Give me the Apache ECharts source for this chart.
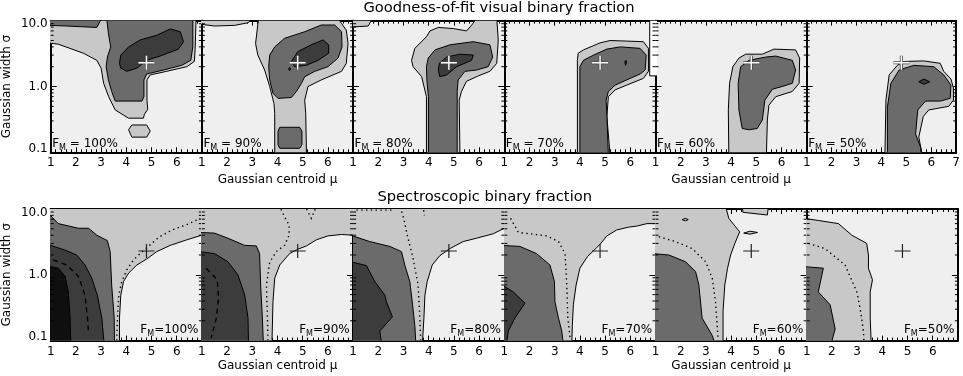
<!DOCTYPE html>
<html>
<head>
<meta charset="utf-8">
<script src="https://cdn.jsdelivr.net/npm/echarts@6/dist/echarts.min.js"></script>
<style>
html, body { margin: 0; padding: 0; background: #fff; }
#chart { width: 963px; height: 376px; }
</style>
</head>
<body>
<div id="chart"></div>
<script>
// row titles, panel fractions and axis ticks
var rowTitles = ['Goodness-of-fit visual binary fraction', 'Spectroscopic binary fraction'];
var fractions = ['100%', '90%', '80%', '70%', '60%', '50%'];
var xTicks = [1, 2, 3, 4, 5, 6, 7];
var yTicks = [0.1, 1, 10];
var yMinor = [0.2, 0.3, 0.4, 0.5, 0.6, 0.7, 0.8, 0.9, 2, 3, 4, 5, 6, 7, 8, 9];
var bestFit = [4.8, 2.3];

// contours: [mu, sigma] vertices, lev = contour level (1 light .. 4 darkest, 5 white)
var visual100 = [
	{lev: 1, pts: [[0.9,11],[0.9,4.6],[1.3,4.4],[2.3,3.2],[2.83,2.5],[3.0,1.9],[3.1,1.12],[3.3,0.7],[3.56,0.44],[4.09,0.33],[4.68,0.33],[4.72,0.38],[4.85,0.45],[4.82,0.62],[4.82,1.26],[4.95,1.5],[5.6,1.7],[6.4,2.0],[6.7,2.4],[6.73,3.6],[6.77,11]]},
	{lev: 2, pts: [[0.9,11],[0.9,8.5],[1.64,8.3],[2.2,8.1],[2.83,7.9],[3.03,11]]},
	{lev: 2, pts: [[3.22,11],[3.29,6.4],[3.38,4.0],[3.25,2.8],[3.2,2.0],[3.29,1.26],[3.42,0.84],[3.56,0.6],[4.62,0.6],[4.7,0.7],[4.7,1.26],[4.81,1.55],[5.48,1.78],[6.2,2.1],[6.56,2.5],[6.64,4.0],[6.64,11]]},
	{lev: 3, pts: [[3.73,2.25],[3.78,3.0],[4.09,4.0],[4.55,5.1],[5.21,6.0],[5.74,7.5],[6.14,6.8],[6.27,4.8],[6.07,3.7],[5.34,2.9],[4.81,2.5],[4.42,1.9],[4.02,1.7],[3.78,1.9]]},
	{lev: 1, pts: [[4.09,0.22],[4.22,0.26],[4.81,0.26],[4.95,0.21],[4.81,0.17],[4.22,0.17]]}
];
var visual90 = [
	{lev: 1, pts: [[0.9,11],[0.9,8.9],[1.5,8.3],[2.3,8.5],[2.83,9.3],[3.03,11]]},
	{lev: 1, pts: [[3.25,11],[3.13,4.5],[3.22,3.0],[3.49,1.78],[3.69,1.0],[3.86,0.55],[3.89,0.39],[3.89,0.09],[5.15,0.09],[5.12,0.39],[5.08,0.62],[5.21,1.0],[5.74,1.26],[6.54,1.7],[6.73,2.25],[6.8,4.5],[6.73,7.2],[6.54,9.1],[6.4,11]]},
	{lev: 2, pts: [[3.65,2.0],[3.69,3.0],[3.89,4.0],[4.28,5.4],[5.08,6.8],[5.74,8.6],[6.27,8.6],[6.54,6.8],[6.56,4.0],[6.4,2.7],[6.0,2.0],[5.48,1.7],[5.08,1.41],[4.95,1.12],[4.75,0.84],[4.55,0.68],[4.02,0.66],[3.82,0.79],[3.69,1.26]]},
	{lev: 3, pts: [[4.55,2.4],[4.81,3.4],[5.34,4.3],[5.81,5.1],[6.03,4.3],[6.03,3.2],[5.61,2.5],[5.15,2.1],[4.68,2.0]]},
	{lev: 3, pts: [[4.44,1.85],[4.48,1.95],[4.52,1.85],[4.48,1.75]]},
	{lev: 2, pts: [[4.02,0.21],[4.09,0.24],[4.88,0.24],[4.97,0.21],[4.97,0.13],[4.88,0.115],[4.09,0.115],[4.02,0.13]]}
];
var visual80 = [
	{lev: 1, pts: [[0.9,11],[0.9,8.0],[1.6,8.3],[1.77,11]]},
	{lev: 1, pts: [[3.91,0.09],[3.91,0.7],[3.72,1.41],[3.38,2.0],[3.32,2.5],[3.45,3.8],[3.91,5.7],[4.05,7.0],[4.38,7.9],[4.97,7.6],[5.5,7.0],[5.74,8.9],[5.9,11],[6.7,11],[6.76,5.1],[6.7,2.25],[6.43,1.7],[5.97,1.45],[5.5,1.2],[5.3,0.84],[5.21,0.62],[5.24,0.09]]},
	{lev: 2, pts: [[3.99,0.09],[3.99,0.7],[3.93,1.2],[3.91,2.0],[3.98,2.7],[4.25,3.6],[4.84,4.3],[5.77,4.8],[6.43,4.3],[6.54,2.8],[6.36,2.0],[5.9,1.78],[5.44,1.7],[5.17,1.26],[5.13,0.84],[5.13,0.09]]},
	{lev: 3, pts: [[4.38,1.78],[4.42,2.25],[4.71,2.8],[5.24,3.1],[5.77,3.0],[5.7,2.5],[5.11,2.0],[4.71,1.5],[4.44,1.41]]}
];
var visual70 = [
	{lev: 1, pts: [[3.9,0.09],[3.9,2.5],[3.93,3.2],[4.14,3.6],[4.8,4.6],[5.2,5.0],[6.52,4.8],[6.72,3.8],[6.72,1.7],[6.52,1.33],[5.86,1.05],[5.4,0.89],[5.13,0.7],[5.07,0.35],[5.2,0.09]]},
	{lev: 2, pts: [[4.0,0.09],[4.0,2.0],[4.14,2.5],[4.54,3.0],[5.07,3.7],[5.6,4.0],[6.39,3.8],[6.63,3.0],[6.59,1.78],[6.39,1.55],[5.86,1.26],[5.4,1.05],[5.13,0.84],[5.04,0.62],[5.07,0.37],[5.13,0.09]]},
	{lev: 3, pts: [[5.78,2.4],[5.83,2.5],[5.85,2.3],[5.81,2.1]]},
	{lev: 5, pts: [[6.77,11],[6.77,1.45],[7.2,1.45],[7.2,11]]}
];
var visual60 = [
	{lev: 1, pts: [[3.91,0.09],[3.89,0.44],[3.94,1.12],[4.07,2.0],[4.31,2.7],[4.58,3.1],[5.24,3.1],[5.7,3.7],[6.56,3.6],[6.72,2.7],[6.7,1.12],[6.43,0.84],[5.77,0.7],[5.5,0.52],[5.44,0.31],[5.4,0.09]]},
	{lev: 2, pts: [[4.44,0.23],[4.31,0.44],[4.28,1.12],[4.38,2.0],[4.71,2.5],[5.37,2.8],[5.77,2.9],[6.43,2.5],[6.56,1.78],[6.43,1.12],[6.03,1.0],[5.64,0.91],[5.34,0.62],[5.24,0.31],[5.04,0.23],[4.71,0.22]]}
];
var visual50 = [
	{lev: 1, pts: [[4.14,0.09],[4.18,0.62],[4.31,1.5],[4.64,2.1],[4.91,2.4],[5.7,2.45],[6.36,2.25],[6.5,1.7],[6.79,1.3],[6.89,0.95],[6.89,0.62],[6.7,0.5],[5.9,0.44],[5.68,0.35],[5.5,0.17],[5.64,0.09]]},
	{lev: 2, pts: [[4.24,0.09],[4.24,0.49],[4.38,1.12],[4.71,1.78],[5.3,2.1],[6.1,2.0],[6.5,1.5],[6.79,1.05],[6.76,0.66],[6.36,0.6],[5.77,0.6],[5.46,0.44],[5.37,0.19],[5.57,0.12],[5.6,0.09]]},
	{lev: 3, pts: [[5.5,1.18],[5.7,1.3],[5.94,1.18],[5.7,1.08]]}
];
var spec100 = [
	{lev: 1, pts: [[0.9,11],[7.2,11],[7.2,4.0],[7.0,4.0],[6.4,3.4],[5.74,2.8],[5.21,2.25],[4.81,1.74],[4.42,1.41],[4.09,1.06],[3.89,0.79],[3.78,0.49],[3.73,0.22],[3.73,0.09],[0.9,0.09]]},
	{lev: 2, pts: [[0.9,7.9],[1.0,7.9],[1.3,6.0],[2.1,5.1],[2.5,5.1],[2.83,4.0],[3.25,3.3],[3.36,2.25],[3.42,0.7],[3.52,0.22],[3.53,0.09],[0.9,0.09]]},
	{lev: 3, pts: [[0.9,2.8],[1.0,2.8],[1.57,2.37],[2.03,2.0],[2.36,1.41],[2.63,0.89],[2.85,0.49],[3.03,0.22],[3.12,0.09],[0.9,0.09]]},
	{lev: 4, pts: [[0.9,1.33],[1.0,1.33],[1.3,1.26],[1.57,0.95],[1.7,0.55],[1.77,0.22],[1.8,0.09],[0.9,0.09]]},
	{line: 'dash', pts: [[1.1,1.68],[1.64,1.41],[2.1,0.95],[2.36,0.49],[2.46,0.22],[2.5,0.13]]},
	{line: 'dot', pts: [[3.62,0.1],[3.65,0.22],[3.7,0.49],[3.82,0.79],[4.02,1.19],[4.28,1.68],[4.55,2.1],[4.88,2.7],[5.28,3.7],[5.81,4.8],[6.4,5.8],[6.93,7.2]]}
];
var spec90 = [
	{lev: 1, pts: [[0.9,11],[7.2,11],[7.2,4.0],[7.0,4.0],[6.54,4.1],[6.0,3.9],[5.54,3.4],[5.15,2.75],[4.81,2.45],[4.48,2.1],[4.09,1.41],[3.89,0.89],[3.82,0.39],[3.78,0.09],[0.9,0.09]]},
	{lev: 2, pts: [[0.9,4.4],[1.5,4.3],[2.03,3.6],[2.7,2.8],[3.16,2.75],[3.29,2.1],[3.33,0.7],[3.4,0.22],[3.44,0.09],[0.9,0.09]]},
	{lev: 3, pts: [[0.9,2.25],[1.5,2.1],[2.03,1.58],[2.43,1.0],[2.7,0.49],[2.83,0.22],[2.85,0.09],[0.9,0.09]]},
	{line: 'dash', pts: [[1.17,1.26],[1.61,0.84],[1.66,0.44],[1.57,0.22],[1.37,0.11]]},
	{line: 'dot', pts: [[3.62,0.1],[3.6,0.22],[3.56,0.7],[3.69,1.55],[3.95,2.25],[4.28,2.8],[4.46,4.0],[4.46,5.7],[4.28,7.6],[4.13,10]]},
	{line: 'dot', pts: [[5.15,10],[5.34,7.2],[5.5,10]]}
];
var spec80 = [
	{lev: 1, pts: [[0.9,11],[7.2,11],[7.2,5.1],[7.0,5.1],[6.56,4.2],[5.9,3.6],[5.37,3.2],[4.84,2.5],[4.44,1.95],[4.14,1.41],[3.94,0.79],[3.85,0.49],[3.81,0.22],[3.75,0.09],[0.9,0.09]]},
	{lev: 2, pts: [[0.9,4.0],[1.66,3.2],[2.46,2.7],[2.92,2.25],[3.05,1.41],[3.25,0.79],[3.36,0.35],[3.45,0.17],[3.49,0.09],[0.9,0.09]]},
	{lev: 3, pts: [[0.9,1.58],[1.53,1.38],[1.86,0.79],[2.26,0.49],[2.32,0.39],[2.56,0.23],[2.06,0.14],[2.13,0.09],[0.9,0.09]]},
	{line: 'dot', pts: [[3.68,0.1],[3.65,0.22],[3.58,0.7],[3.38,1.78],[3.15,4.0],[3.01,7.2],[2.92,9.3]]},
	{line: 'dot', pts: [[3.8,9.6],[3.83,8.0]]},
	{line: 'dot', pts: [[1.13,9.6],[2.59,9.6]]}
];
var spec70 = [
	{lev: 1, pts: [[0.9,11],[7.2,11],[7.2,6.0],[6.66,6.0],[6.26,5.5],[5.93,5.3],[5.46,4.8],[5.07,3.9],[4.8,2.9],[4.3,1.89],[4.0,1.26],[3.85,0.7],[3.74,0.35],[3.7,0.17],[3.68,0.09],[0.9,0.09]]},
	{lev: 2, pts: [[0.9,2.8],[1.62,2.7],[2.28,2.1],[2.81,1.41],[2.99,0.79],[3.01,0.39],[3.15,0.22],[3.28,0.14],[3.34,0.09],[0.9,0.09]]},
	{lev: 3, pts: [[0.9,0.7],[1.36,0.55],[1.82,0.37],[1.42,0.22],[1.16,0.14],[1.09,0.09],[0.9,0.09]]},
	{line: 'dot', pts: [[1.25,7.2],[1.56,4.4],[2.02,4.2],[2.68,3.9],[3.15,3.2],[3.41,2.1],[3.48,0.7],[3.52,0.22],[3.61,0.11]]}
];
var spec60 = [
	{lev: 1, pts: [[0.9,11],[3.78,11],[3.91,7.2],[4.34,4.5],[4.15,3.0],[3.98,2.0],[3.86,1.26],[3.75,0.7],[3.68,0.28],[3.68,0.09],[0.9,0.09]]},
	{lev: 1, pts: [[4.44,11],[4.47,8.9],[5.44,8.1],[5.48,11]]},
	{lev: 1, pts: [[4.5,4.3],[4.75,4.6],[5.05,4.4],[4.75,4.15]]},
	{lev: 1, pts: [[2.06,6.9],[2.18,7.2],[2.3,6.9],[2.18,6.6]]},
	{lev: 2, pts: [[0.9,2.1],[1.53,2.0],[2.19,1.58],[2.59,1.12],[2.72,0.7],[2.85,0.22],[3.25,0.12],[3.36,0.09],[0.9,0.09]]},
	{line: 'dot', pts: [[1.13,3.8],[1.79,3.2],[2.46,2.5],[2.99,1.58],[3.25,0.89],[3.38,0.39],[3.45,0.17],[3.48,0.1]]}
];
var spec50 = [
	{lev: 1, pts: [[0.9,7.2],[1.46,6.7],[2.26,6.0],[2.79,4.0],[3.38,3.0],[3.45,2.0],[3.45,1.26],[3.61,0.84],[3.52,0.55],[3.52,0.22],[3.56,0.09],[0.9,0.09]]},
	{lev: 2, pts: [[0.9,1.33],[1.66,1.26],[1.46,0.55],[1.93,0.35],[2.13,0.15],[1.97,0.09],[0.9,0.09]]},
	{line: 'dot', pts: [[1.07,3.0],[1.73,2.5],[2.52,1.41],[2.99,0.55],[3.12,0.31],[3.25,0.14],[3.27,0.1]]}
];

var panels = [visual100, visual90, visual80, visual70, visual60, visual50,
	spec100, spec90, spec80, spec70, spec60, spec50];

var FONT = 'DejaVu Sans';
var levColors = {1: '#c8c8c8', 2: '#6b6b6b', 3: '#3c3c3c', 4: '#0f0f0f', 5: '#ffffff'};
var PANEL_LEFT = 50.7, PANEL_W = 151.2, PANEL_H = 131.6;
var ROW_TOP = [20.7, 209];

var mctx = document.createElement('canvas').getContext('2d');
function textWidth(t, size) {
	mctx.font = size + 'px "' + FONT + '"';
	return mctx.measureText(t).width;
}

var chart = echarts.init(document.getElementById('chart'));
var grids = [], xAxes = [], yAxes = [], series = [], graphics = [];

panels.forEach(function(shapes, g) {
	var r = Math.floor(g / 6), c = g % 6;
	var left = PANEL_LEFT + c * PANEL_W, top = ROW_TOP[r];
	grids.push({left: left, top: top, width: PANEL_W, height: PANEL_H, show: true,
		backgroundColor: '#efefef', borderWidth: 0});

	var frame = {show: true, onZero: false, lineStyle: {color: '#000', width: 2}};
	var showSeven = (r === 0 && c === 5);
	[false, true].forEach(function(isTop) {
		xAxes.push({
			gridIndex: g, type: 'value', position: isTop ? 'top' : 'bottom',
			min: xTicks[0], max: xTicks[xTicks.length - 1], interval: 1,
			axisLine: frame,
			axisTick: {show: true, inside: true, length: 5, lineStyle: {color: '#000', width: 1}},
			minorTick: {show: true, splitNumber: 5, length: 3, lineStyle: {color: '#000', width: 1}},
			splitLine: {show: false},
			axisLabel: {show: !isTop, color: '#000', fontFamily: FONT, fontSize: 12, margin: 5,
				showMinLabel: true, showMaxLabel: true,
				formatter: function(v) { return (v === 7 && !showSeven) ? '' : String(v); }}
		});
	});
	[false, true].forEach(function(isRight) {
		yAxes.push({
			gridIndex: g, type: 'log', logBase: 10, position: isRight ? 'right' : 'left',
			min: yTicks[0], max: yTicks[yTicks.length - 1],
			axisLine: frame,
			axisTick: {show: true, inside: true, length: 6, lineStyle: {color: '#000', width: 1}},
			minorTick: {show: false},
			splitLine: {show: false},
			axisLabel: {show: !isRight && c === 0, color: '#000', fontFamily: FONT, fontSize: 12, margin: 3,
				lineHeight: 7, verticalAlignMinLabel: 'bottom', verticalAlignMaxLabel: 'top',
				formatter: function(v) { return Number(v).toFixed(1); }}
		});
	});

	var items = shapes.slice();
	items.push({kind: 'ticks'});
	items.push({kind: 'cross'});
	series.push({
		type: 'custom', xAxisIndex: 2 * g, yAxisIndex: 2 * g, clip: true, silent: true,
		data: items.map(function(it) { return it.pts ? it.pts[0] : bestFit; }),
		renderItem: function(params, api) {
			var it = items[params.dataIndex];
			if (it.kind === 'ticks') {
				var ch = [];
				yMinor.forEach(function(v) {
					var a = api.coord([xTicks[0], v]), b = api.coord([xTicks[xTicks.length - 1], v]);
					ch.push({type: 'line', shape: {x1: a[0], y1: a[1], x2: a[0] + 3, y2: a[1]}, style: {stroke: '#000', lineWidth: 1}});
					ch.push({type: 'line', shape: {x1: b[0], y1: b[1], x2: b[0] - 3, y2: b[1]}, style: {stroke: '#000', lineWidth: 1}});
				});
				return {type: 'group', children: ch};
			}
			if (it.kind === 'cross') {
				var p = api.coord(bestFit);
				var hx = 8, hy = 7;
				var lines = [];
				var layers = r === 0 ? [['#4a4a4a', 3], ['#ffffff', 1.4]] : [['#222222', 1.2]];
				layers.forEach(function(l) {
					lines.push({type: 'line', shape: {x1: p[0] - hx, y1: p[1], x2: p[0] + hx, y2: p[1]}, style: {stroke: l[0], lineWidth: l[1]}});
					lines.push({type: 'line', shape: {x1: p[0], y1: p[1] - hy, x2: p[0], y2: p[1] + hy}, style: {stroke: l[0], lineWidth: l[1]}});
				});
				return {type: 'group', children: lines};
			}
			var pts = it.pts.map(function(q) { return api.coord(q); });
			if (it.line) {
				return {type: 'polyline', shape: {points: pts},
					style: {stroke: '#000', lineWidth: 1.4, fill: null,
						lineDash: it.line === 'dot' ? [1.4, 3.4] : [5, 4]}};
			}
			return {type: 'polygon', shape: {points: pts},
				style: {fill: levColors[it.lev], stroke: '#000', lineWidth: 1}};
		}
	});

	// F_M labels
	var frac = fractions[c];
	if (r === 0) {
		var x0 = left + 1.5, yc = top + 122.8;
		graphics.push({type: 'text', x: x0, y: yc, style: {text: 'F', font: '12px "' + FONT + '"', fill: '#000', align: 'left', verticalAlign: 'middle', textAlign: 'left', textVerticalAlign: 'middle'}});
		var wF = textWidth('F', 12);
		graphics.push({type: 'text', x: x0 + wF, y: yc + 4, style: {text: 'M', font: '8px "' + FONT + '"', fill: '#000', align: 'left', verticalAlign: 'middle', textAlign: 'left', textVerticalAlign: 'middle'}});
		var wM = textWidth('M', 8);
		graphics.push({type: 'text', x: x0 + wF + wM, y: yc, style: {text: ' = ' + frac, font: '12px "' + FONT + '"', fill: '#000', align: 'left', verticalAlign: 'middle', textAlign: 'left', textVerticalAlign: 'middle'}});
	} else {
		var xr = left + PANEL_W - 3.4, yb = top + 121;
		var rest = '=' + frac;
		var wr = textWidth(rest, 12), wm = textWidth('M', 8);
		graphics.push({type: 'text', x: xr, y: yb, style: {text: rest, font: '12px "' + FONT + '"', fill: '#000', align: 'right', verticalAlign: 'middle', textAlign: 'right', textVerticalAlign: 'middle'}});
		graphics.push({type: 'text', x: xr - wr, y: yb + 4, style: {text: 'M', font: '8px "' + FONT + '"', fill: '#000', align: 'right', verticalAlign: 'middle', textAlign: 'right', textVerticalAlign: 'middle'}});
		graphics.push({type: 'text', x: xr - wr - wm, y: yb, style: {text: 'F', font: '12px "' + FONT + '"', fill: '#000', align: 'right', verticalAlign: 'middle', textAlign: 'right', textVerticalAlign: 'middle'}});
	}
	// axis titles
	if (c === 1 || c === 4) {
		graphics.push({type: 'text', x: left + PANEL_W / 2, y: top + PANEL_H + (r === 0 ? 27.2 : 25.1),
			style: {text: 'Gaussian centroid \u03bc', font: '12px "' + FONT + '"', fill: '#000', align: 'center', verticalAlign: 'middle', textAlign: 'center', textVerticalAlign: 'middle'}});
	}
	if (c === 0) {
		graphics.push({type: 'text', x: 6.7, y: top + PANEL_H / 2, rotation: Math.PI / 2,
			style: {text: 'Gaussian width \u03c3', font: '12px "' + FONT + '"', fill: '#000', align: 'center', verticalAlign: 'middle', textAlign: 'center', textVerticalAlign: 'middle'}});
	}
});

graphics.push({type: 'text', x: 499, y: 8.3, style: {text: rowTitles[0], font: '14.7px "' + FONT + '"', fill: '#000', align: 'center', verticalAlign: 'middle', textAlign: 'center', textVerticalAlign: 'middle'}});
graphics.push({type: 'text', x: 484.7, y: 196.7, style: {text: rowTitles[1], font: '14.7px "' + FONT + '"', fill: '#000', align: 'center', verticalAlign: 'middle', textAlign: 'center', textVerticalAlign: 'middle'}});

chart.setOption({
	backgroundColor: '#ffffff',
	animation: false,
	grid: grids,
	xAxis: xAxes,
	yAxis: yAxes,
	series: series,
	graphic: graphics
});
</script>
</body>
</html>
